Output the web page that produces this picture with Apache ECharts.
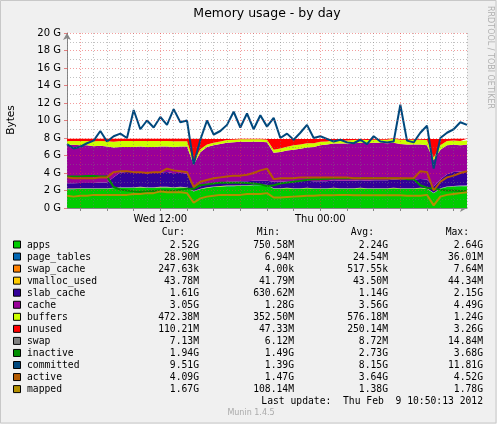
<!DOCTYPE html>
<html><head><meta charset="utf-8">
<script src="https://cdn.jsdelivr.net/npm/echarts@6/dist/echarts.min.js"></script>
<style>html,body{margin:0;padding:0;background:#f0f0f0}#c{width:497px;height:424px}</style>
</head><body><div id="c"></div>
<script>
// samples every 0.5 h, starting Wed 05:00
const startHour = 5, stepHour = 0.5;
const apps = [2.15,2.15,2.2,2.2,2.2,2.2,2.2, 2.25,2.3,2.3,2.3,2.35,2.3,2.3,2.35,2.35,2.3,2.35,2.3, 1.9,2.15,2.3,2.4,2.45,2.5,2.5,2.55,2.55,2.6,2.6,2.6, 2.2,2.2,2.25,2.2,2.2,2.25,2.2,2.2,2.2,2.25,2.2,2.2,2.2,2.25,2.2,2.2,2.2,2.2,2.25,2.2,2.2,2.2,2.25,2.2, 1.7,2.2,2.4,2.45,2.5,2.5];
const page_tables = [0.03,0.03,0.03,0.03,0.03,0.03,0.03,0.03,0.03,0.03,0.03,0.03,0.03,0.03,0.03,0.03,0.03,0.03,0.03,0.01,0.02,0.02,0.02,0.02,0.02,0.02,0.02,0.02,0.02,0.02,0.02,0.02,0.02,0.02,0.02,0.02,0.02,0.02,0.02,0.02,0.02,0.02,0.02,0.02,0.02,0.02,0.02,0.02,0.02,0.02,0.02,0.02,0.02,0.02,0.02,0.01,0.02,0.02,0.03,0.03,0.03];
const swap_cache = [0.0005,0.0005,0.0005,0.0005,0.0005,0.0005,0.0005,0.0005,0.0005,0.0005,0.0005,0.0005,0.0005,0.0005,0.0005,0.0005,0.0005,0.0005,0.0005,0.007,0.001,0.0005,0.0005,0.0005,0.0005,0.0005,0.0005,0.0005,0.0005,0.0005,0.0005,0.0005,0.0005,0.0005,0.0005,0.0005,0.0005,0.0005,0.0005,0.0005,0.0005,0.0005,0.0005,0.0005,0.0005,0.0005,0.0005,0.0005,0.0005,0.0005,0.0005,0.0005,0.0005,0.0005,0.0005,0.005,0.001,0.0005,0.0003,0.0003,0.0003];
const vmalloc_used = [0.04,0.04,0.04,0.04,0.04,0.04,0.04,0.04,0.04,0.04,0.04,0.04,0.04,0.04,0.04,0.04,0.04,0.04,0.04,0.04,0.04,0.04,0.04,0.04,0.04,0.04,0.04,0.04,0.04,0.04,0.04,0.04,0.04,0.04,0.04,0.04,0.04,0.04,0.04,0.04,0.04,0.04,0.04,0.04,0.04,0.04,0.04,0.04,0.04,0.04,0.04,0.04,0.04,0.04,0.04,0.04,0.04,0.04,0.04,0.04,0.04];
const slab_cache = [0.6,0.6,0.6,0.6,0.6,0.65,0.65, 1.2,1.7,1.75,1.75,1.7,1.7,1.65,1.65,1.7,1.6,1.6,1.55, 0.4,0.35,0.4,0.4,0.4,0.45,0.45,0.45,0.45,0.45,0.45,0.45, 0.75,0.75,0.75,0.8,0.8,0.8,0.8,0.8,0.8,0.85,0.85,0.85,0.85,0.85,0.85,0.9,0.9,0.9,0.95,0.95,1.0,1.0,1.0,1.0, 0.7,1.0,1.4,1.6,1.6,1.65];
const cache = [4.4,4.4,4.3,4.3,4.2,4.2,4.1, 3.4,2.9,2.85,2.85,2.9,2.9,2.95,2.95,2.9,3.0,3.0,3.1, 2.6,3.8,4.2,4.3,4.4,4.45,4.5,4.5,4.5,4.45,4.45,4.4, 3.3,3.4,3.5,3.6,3.7,3.8,3.9,4.1,4.2,4.2,4.25,4.25,4.3,4.3,4.3,4.3,4.3,4.25,4.2,4.1,4.0,4.0,3.95,3.9, 3.0,3.4,3.3,3.1,3.0,3.0];
const buffers = [0.45,0.45,0.5,0.5,0.55,0.55,0.6, 0.65,0.7,0.7,0.7,0.65,0.7,0.7,0.65,0.65,0.65,0.6,0.6, 0.3,0.35,0.3,0.3,0.3,0.3,0.3,0.3,0.3,0.3,0.3,0.3, 0.35,0.4,0.45,0.5,0.5,0.5,0.45,0.4,0.35,0.35,0.35,0.35,0.35,0.35,0.35,0.35,0.35,0.4,0.45,0.5,0.55,0.55,0.55,0.6, 0.3,0.5,0.5,0.5,0.5,0.5];
const unused = [0.23,0.23,0.23,0.23,0.28,0.23,0.28, 0.33,0.23,0.23,0.23,0.23,0.23,0.23,0.23,0.23,0.28,0.28,0.28, 2.63,1.18,0.63,0.43,0.28,0.13,0.08,0.05,0.05,0.05,0.05,0.08, 1.23,1.08,0.88,0.73,0.63,0.48,0.48,0.33,0.28,0.18,0.18,0.18,0.13,0.08,0.13,0.08,0.08,0.08,0.05,0.08,0.08,0.08,0.08,0.13, 2.13,0.73,0.23,0.18,0.23,0.18];
const swap = [0.007,0.007,0.007,0.007,0.007,0.007,0.007,0.007,0.007,0.007,0.007,0.007,0.007,0.007,0.007,0.007,0.007,0.007,0.007,0.014,0.01,0.008,0.008,0.008,0.008,0.008,0.008,0.008,0.008,0.008,0.008,0.009,0.009,0.009,0.009,0.009,0.009,0.009,0.009,0.009,0.009,0.009,0.009,0.009,0.009,0.009,0.009,0.009,0.009,0.009,0.009,0.009,0.009,0.009,0.009,0.012,0.008,0.007,0.007,0.007,0.007];
const inactive = [3.6,3.6,3.6,3.65,3.65,3.6,3.6, 2.4,2.1,2.0,1.9,1.85,1.9,1.95,2.0,2.0,1.95,2.1,2.2, 2.2,2.6,2.7,2.8,2.9,2.9,2.9,2.9,2.85,2.8,2.7,2.5, 2.6,2.8,2.9,3.0,3.1,3.2,3.3,3.3,3.35,3.4,3.4,3.4,3.4,3.4,3.4,3.4,3.4,3.4,3.4,3.4,3.3,3.3,2.6,2.3, 2.2,2.1,2.0,2.0,1.95,1.95];
const committed = [7.3,6.8,7.0,7.4,7.7,8.8,7.6, 8.2,8.5,8.0,11.2,9.0,10.0,9.2,10.4,9.5,11.3,9.8,10.0, 5.0,7.8,10.0,8.4,8.8,9.5,11.0,9.2,10.8,9.0,10.6,9.3, 10.3,8.0,8.5,7.8,8.6,9.5,8.0,8.2,7.9,7.6,7.8,7.5,7.4,7.8,7.3,8.2,7.6,7.5,7.6,11.8,7.7,7.5,8.6,9.4, 4.5,8.0,8.6,9.0,9.8,9.5];
const active = [3.5,3.4,3.4,3.4,3.4,3.5,3.5, 4.1,4.2,4.2,4.1,4.1,4.0,4.1,4.1,4.5,4.3,4.2,4.1, 2.4,3.0,3.2,3.4,3.5,3.6,3.7,3.7,3.8,4.0,4.3,4.5, 3.3,3.4,3.4,3.4,3.5,3.5,3.5,3.5,3.5,3.5,3.5,3.5,3.4,3.4,3.4,3.4,3.4,3.4,3.4,3.4,3.4,3.4,4.2,4.1, 2.0,3.0,3.5,3.7,4.0,4.2];
const mapped = [1.4,1.3,1.4,1.4,1.5,1.5,1.5, 1.5,1.5,1.5,1.6,1.6,1.7,1.7,1.9,1.8,1.8,1.8,1.7, 0.6,1.1,1.3,1.4,1.5,1.5,1.5,1.5,1.6,1.6,1.6,1.7, 1.2,1.2,1.25,1.3,1.35,1.4,1.4,1.45,1.45,1.45,1.5,1.5,1.45,1.45,1.45,1.45,1.45,1.45,1.45,1.45,1.4,1.4,1.4,1.5, 0.3,1.3,1.5,1.6,1.7,1.8];

const names = ['apps','page_tables','swap_cache','vmalloc_used','slab_cache','cache','buffers','unused','swap','inactive','committed','active','mapped'];
const colors = ['#00CC00','#0066B3','#FF8000','#FFCC00','#330099','#990099','#CCFF00','#FF0000','#808080','#008F00','#00487D','#B35A00','#B38F00'];
const curVals = ['2.52G','28.90M','247.63k','43.78M','1.61G','3.05G','472.38M','110.21M','7.13M','1.94G','9.51G','4.09G','1.67G'];
const minVals = ['750.58M','6.94M','4.00k','41.79M','630.62M','1.28G','352.50M','47.33M','6.12M','1.49G','1.39G','1.47G','108.14M'];
const avgVals = ['2.24G','24.54M','517.55k','43.50M','1.14G','3.56G','576.18M','250.14M','8.72M','2.73G','8.15G','3.64G','1.38G'];
const maxVals = ['2.64G','36.01M','7.64M','44.34M','2.15G','4.49G','1.24G','3.26G','14.84M','3.68G','11.81G','4.52G','1.78G'];
const shownTickLabels = ['Wed 12:00','Thu 00:00'];
const yGridValues = [1,2,3,4,5,6,7,8,9,10,11,12,13,14,15,16,17,18,19,20];

const pad = n => (n<10?'0':'')+n;
const categories = apps.map((_,i)=>{const h=startHour+stepHour*i; const d=h>=24?'Thu':'Wed'; const hh=Math.floor(h%24); const mm=Math.round((h-Math.floor(h))*60); return d+' '+pad(hh)+':'+pad(mm);});
const hourOf = i => startHour+stepHour*i;

const GRAY = 'rgba(120,120,120,0.45)', RED = 'rgba(230,60,60,0.5)';
const stacked = [apps,page_tables,swap_cache,vmalloc_used,slab_cache,cache,buffers,unused,swap];
const lines = [inactive,committed,active,mapped];
const series = [];
stacked.forEach((arr,k)=>series.push({name:names[k],type:'line',stack:'mem',data:arr,showSymbol:false,
  lineStyle:{width:0},areaStyle:{color:colors[k],opacity:1},itemStyle:{color:colors[k]},z:2,silent:true,animation:false}));
lines.forEach((arr,k)=>series.push({name:names[9+k],type:'line',data:arr,showSymbol:false,
  lineStyle:{width:2,color:colors[9+k]},itemStyle:{color:colors[9+k]},z:4,silent:true,animation:false}));
const gridIdx = categories.map((c,i)=>i).filter(i=>Number.isInteger(hourOf(i)));
series.push({type:'line',data:[],silent:true,animation:false,z:3,
  markLine:{silent:true,symbol:'none',label:{show:false},animation:false,
    data:gridIdx.map(i=>({xAxis:categories[i],lineStyle:{color:hourOf(i)%6===0?RED:GRAY,type:[1,2],width:1}}))
      .concat(yGridValues.map(v=>({yAxis:v,lineStyle:{color:v%2===0?RED:GRAY,type:[1,2],width:1}})))}});

const mono = 'DejaVu Sans Mono';
const graphic = [];
const rowY = i => 245 + i*12.05;
const cols = [[curVals,199,'Cur:',185],[minVals,294,'Min:',280],[avgVals,388,'Avg:',374],[maxVals,483,'Max:',469]];
cols.forEach(c=>graphic.push({type:'text',x:c[3],y:232,style:{text:c[2],font:'9.7px "'+mono+'"',fill:'#000',align:'right',verticalAlign:'middle'}}));
names.forEach((n,i)=>{
  graphic.push({type:'rect',shape:{x:13.5,y:rowY(i)-4,width:7,height:7},style:{fill:colors[i],stroke:'#000',lineWidth:1}});
  graphic.push({type:'text',x:27,y:rowY(i),style:{text:n,font:'9.7px "'+mono+'"',fill:'#000',verticalAlign:'middle'}});
  cols.forEach(c=>graphic.push({type:'text',x:c[1],y:rowY(i),style:{text:c[0][i],font:'9.7px "'+mono+'"',fill:'#000',align:'right',verticalAlign:'middle'}}));
});
graphic.push({type:'text',x:483,y:401,style:{text:'Last update:  Thu Feb  9 10:50:13 2012',font:'9.7px "'+mono+'"',fill:'#000',align:'right',verticalAlign:'middle'}});
graphic.push({type:'text',x:251,y:413,style:{text:'Munin 1.4.5',font:'8px "DejaVu Sans"',fill:'#aaa',align:'center',verticalAlign:'middle'}});
graphic.push({type:'text',x:267,y:14,style:{text:'Memory usage - by day',font:'12.5px "DejaVu Sans"',fill:'#000',align:'center',verticalAlign:'middle'}});
graphic.push({type:'text',x:490,y:6,rotation:-Math.PI/2,style:{text:'RRDTOOL / TOBI OETIKER',font:'8px "DejaVu Sans"',fill:'#b0b0b0',verticalAlign:'middle'}});
graphic.push({type:'text',x:11,y:120,rotation:Math.PI/2,style:{text:'Bytes',font:'10.5px "DejaVu Sans"',fill:'#000',align:'center',verticalAlign:'middle'}});
graphic.push({type:'rect',shape:{x:0.5,y:0.5,width:495.5,height:422.5},style:{fill:'none',stroke:'#c8c8c8',lineWidth:1}});

const chart = echarts.init(document.getElementById('c'),null,{renderer:'canvas'});
chart.setOption({
  backgroundColor:'#f0f0f0', animation:false,
  grid:{left:67,right:30,top:33,bottom:216,show:true,backgroundColor:'#fff',borderWidth:0},
  xAxis:{type:'category',data:categories,boundaryGap:false,
    axisLine:{lineStyle:{color:'#888'},symbol:['none','arrow'],symbolSize:[6,7]},
    axisTick:{interval:(i)=>hourOf(i)%2===0,length:3,lineStyle:{color:'#888'}},
    axisLabel:{interval:(i,v)=>shownTickLabels.includes(v),color:'#000',fontFamily:'DejaVu Sans',fontSize:10,margin:6},
    splitLine:{show:false}},
  yAxis:{type:'value',min:0,max:20,interval:2,
    axisLine:{show:true,lineStyle:{color:'#888'},symbol:['none','arrow'],symbolSize:[6,7]},
    axisTick:{show:true,length:3,lineStyle:{color:'#e08080'}},
    axisLabel:{formatter:v=>v+' G',color:'#000',fontFamily:'DejaVu Sans',fontSize:10,margin:6},
    splitLine:{show:false}},
  series, graphic
});
</script></body></html>
